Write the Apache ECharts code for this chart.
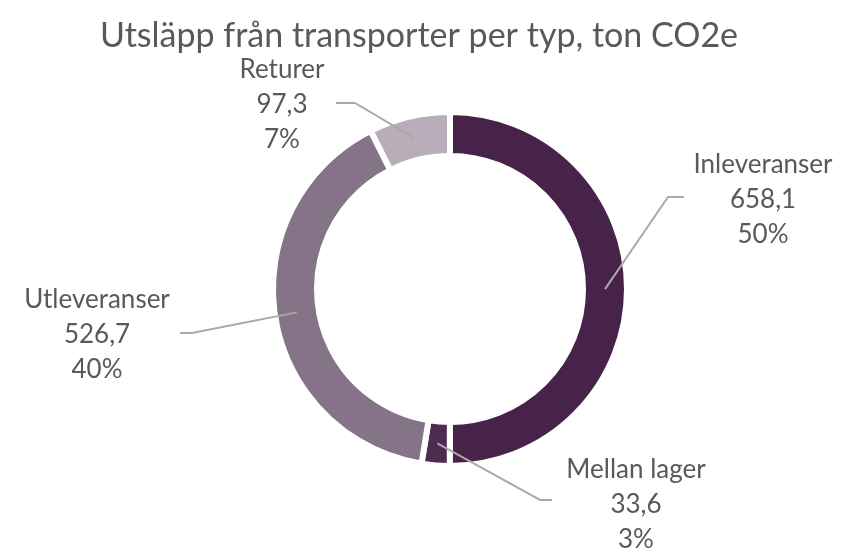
<!DOCTYPE html>
<html>
<head>
<meta charset="utf-8">
<title>Utsläpp från transporter per typ</title>
<script src="https://cdn.jsdelivr.net/npm/echarts@6/dist/echarts.min.js"></script>
<style>
  html, body { margin: 0; padding: 0; background: #fff; }
  #main { width: 842px; height: 554px; }
</style>
</head>
<body>
<div id="main"></div>
<script>
const categories = ['Inleveranser', 'Mellan lager', 'Utleveranser', 'Returer'];
const values = [658.1, 33.6, 526.7, 97.3];

const colors = ['#47234a', '#4f2a51', '#857388', '#b9adb9'];
// label text centres and the elbow/end of each leader line
const labelPos = [[763, 200], [636, 505], [97, 335], [282, 105]];
const linePts = [
    [[668, 197], [684, 197]],
    [[540, 500], [552, 500]],
    [[192, 333], [180, 333]],
    [[355, 103], [336, 103]]
];

const center = [450, 289];
const rInner = 136, rOuter = 174;
const font = 'Lato, "Open Sans", sans-serif';

const chart = echarts.init(document.getElementById('main'));

const pieData = categories.map((name, i) => ({
    name: name,
    value: values[i],
    itemStyle: { color: colors[i] }
}));

chart.setOption({
    animation: false,
    title: {
        text: 'Utsläpp från transporter per typ, ton CO2e',
        left: 95,
        top: 14,
        textStyle: { fontFamily: font, fontSize: 34, fontWeight: 'normal', color: '#595959' }
    },
    series: [{
        // the ring itself
        type: 'pie',
        z: 1,
        center: center,
        radius: [rInner - 3, rOuter + 3],
        startAngle: 90,
        clockwise: true,
        silent: true,
        itemStyle: { borderColor: '#fff', borderWidth: 6 },
        data: pieData,
        label: { show: false },
        labelLine: { show: false }
    }, {
        // transparent copy on top, carries labels and leader lines
        type: 'pie',
        z: 5,
        center: center,
        radius: [rInner, rOuter],
        startAngle: 90,
        clockwise: true,
        silent: true,
        avoidLabelOverlap: false,
        itemStyle: { color: 'rgba(0,0,0,0)', borderWidth: 0 },
        data: categories.map((name, i) => ({ name: name, value: values[i] })),
        label: {
            show: true,
            position: 'outside',
            fontFamily: font,
            fontSize: 26,
            lineHeight: 35,
            color: '#595959',
            align: 'center',
            formatter: p => p.name + '\n' + String(p.value).replace('.', ',') + '\n' + Math.round(p.percent) + '%'
        },
        labelLine: {
            show: true,
            lineStyle: { color: '#a9a9a9', width: 2 }
        },
        labelLayout: params => {
            const i = params.dataIndex;
            const p0 = params.labelLinePoints[0];
            // move the start of the line to the middle of the ring
            const dx = p0[0] - center[0], dy = p0[1] - center[1];
            const len = Math.sqrt(dx * dx + dy * dy);
            const rMid = (rInner + rOuter) / 2;
            const start = [center[0] + dx / len * rMid, center[1] + dy / len * rMid];
            return {
                x: labelPos[i][0],
                y: labelPos[i][1],
                align: 'center',
                verticalAlign: 'middle',
                labelLinePoints: [start, linePts[i][0], linePts[i][1]]
            };
        }
    }]
});
</script>
</body>
</html>
